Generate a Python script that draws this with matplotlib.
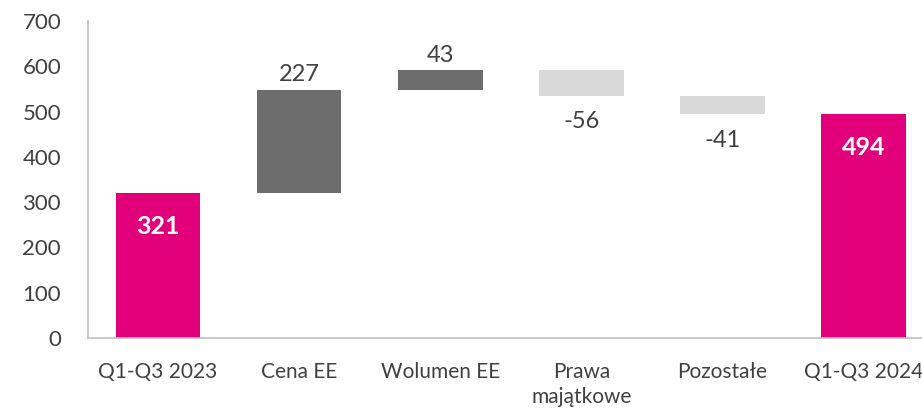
import matplotlib
matplotlib.use("Agg")
import matplotlib.pyplot as plt
import numpy as np

plt.rcParams['font.family'] = ['Lato', 'DejaVu Sans']

categories = ["Q1-Q3 2023", "Cena EE", "Wolumen EE", "Prawa\nmajątkowe", "Pozostałe", "Q1-Q3 2024"]
deltas = [321, 227, 43, -56, -41, 494]
kinds = ["total", "delta", "delta", "delta", "delta", "total"]
yticks = [0, 100, 200, 300, 400, 500, 600, 700]

MAGENTA = "#E2007A"
DARK = "#6D6D6D"
LIGHT = "#D9D9D9"
TXT = "#404040"

fig = plt.figure(figsize=(9.22, 4.09), dpi=100)
W, H = 922, 409
x0, x1 = 87.5, 934
y0, y1 = 338, 21
ax = fig.add_axes([x0 / W, 1 - y0 / H, (x1 - x0) / W, (y0 - y1) / H])

x = np.arange(len(categories))
running = 0
bottoms, heights, colors = [], [], []
for v, k in zip(deltas, kinds):
    if k == "total":
        bottoms.append(0)
        heights.append(v)
        colors.append(MAGENTA)
        running = v
    else:
        if v >= 0:
            bottoms.append(running)
            heights.append(v)
            colors.append(DARK)
        else:
            bottoms.append(running + v)
            heights.append(-v)
            colors.append(LIGHT)
        running += v

ax.bar(x, heights, bottom=bottoms, width=0.6, color=colors, zorder=2)

for i, (v, k, b, h) in enumerate(zip(deltas, kinds, bottoms, heights)):
    if k == "total":
        ax.text(x[i], b + h - 74, f"{v}", ha="center", va="center", color="white",
                fontsize=18, fontweight="bold")
    elif v >= 0:
        ax.text(x[i], b + h + 10, f"{v}", ha="center", va="bottom", color=TXT, fontsize=17)
    else:
        ax.text(x[i], b - 34, f"{v}", ha="center", va="top", color=TXT, fontsize=17)

ax.set_xlim(-0.5, len(categories) - 0.5)
ax.set_ylim(0, 700)
ax.set_yticks(yticks)
ax.set_yticklabels([str(t) for t in yticks])
ax.set_xticks(x)
ax.set_xticklabels(categories, linespacing=1.35)
ax.tick_params(axis="y", length=0, pad=19, labelsize=16, labelcolor=TXT)
ax.tick_params(axis="x", length=0, pad=17, labelsize=15, labelcolor=TXT)
for s in ["top", "right"]:
    ax.spines[s].set_visible(False)
for s in ["left", "bottom"]:
    ax.spines[s].set_color("#BFBFBF")
    ax.spines[s].set_linewidth(1.2)

fig.savefig("out.png", dpi=100)
